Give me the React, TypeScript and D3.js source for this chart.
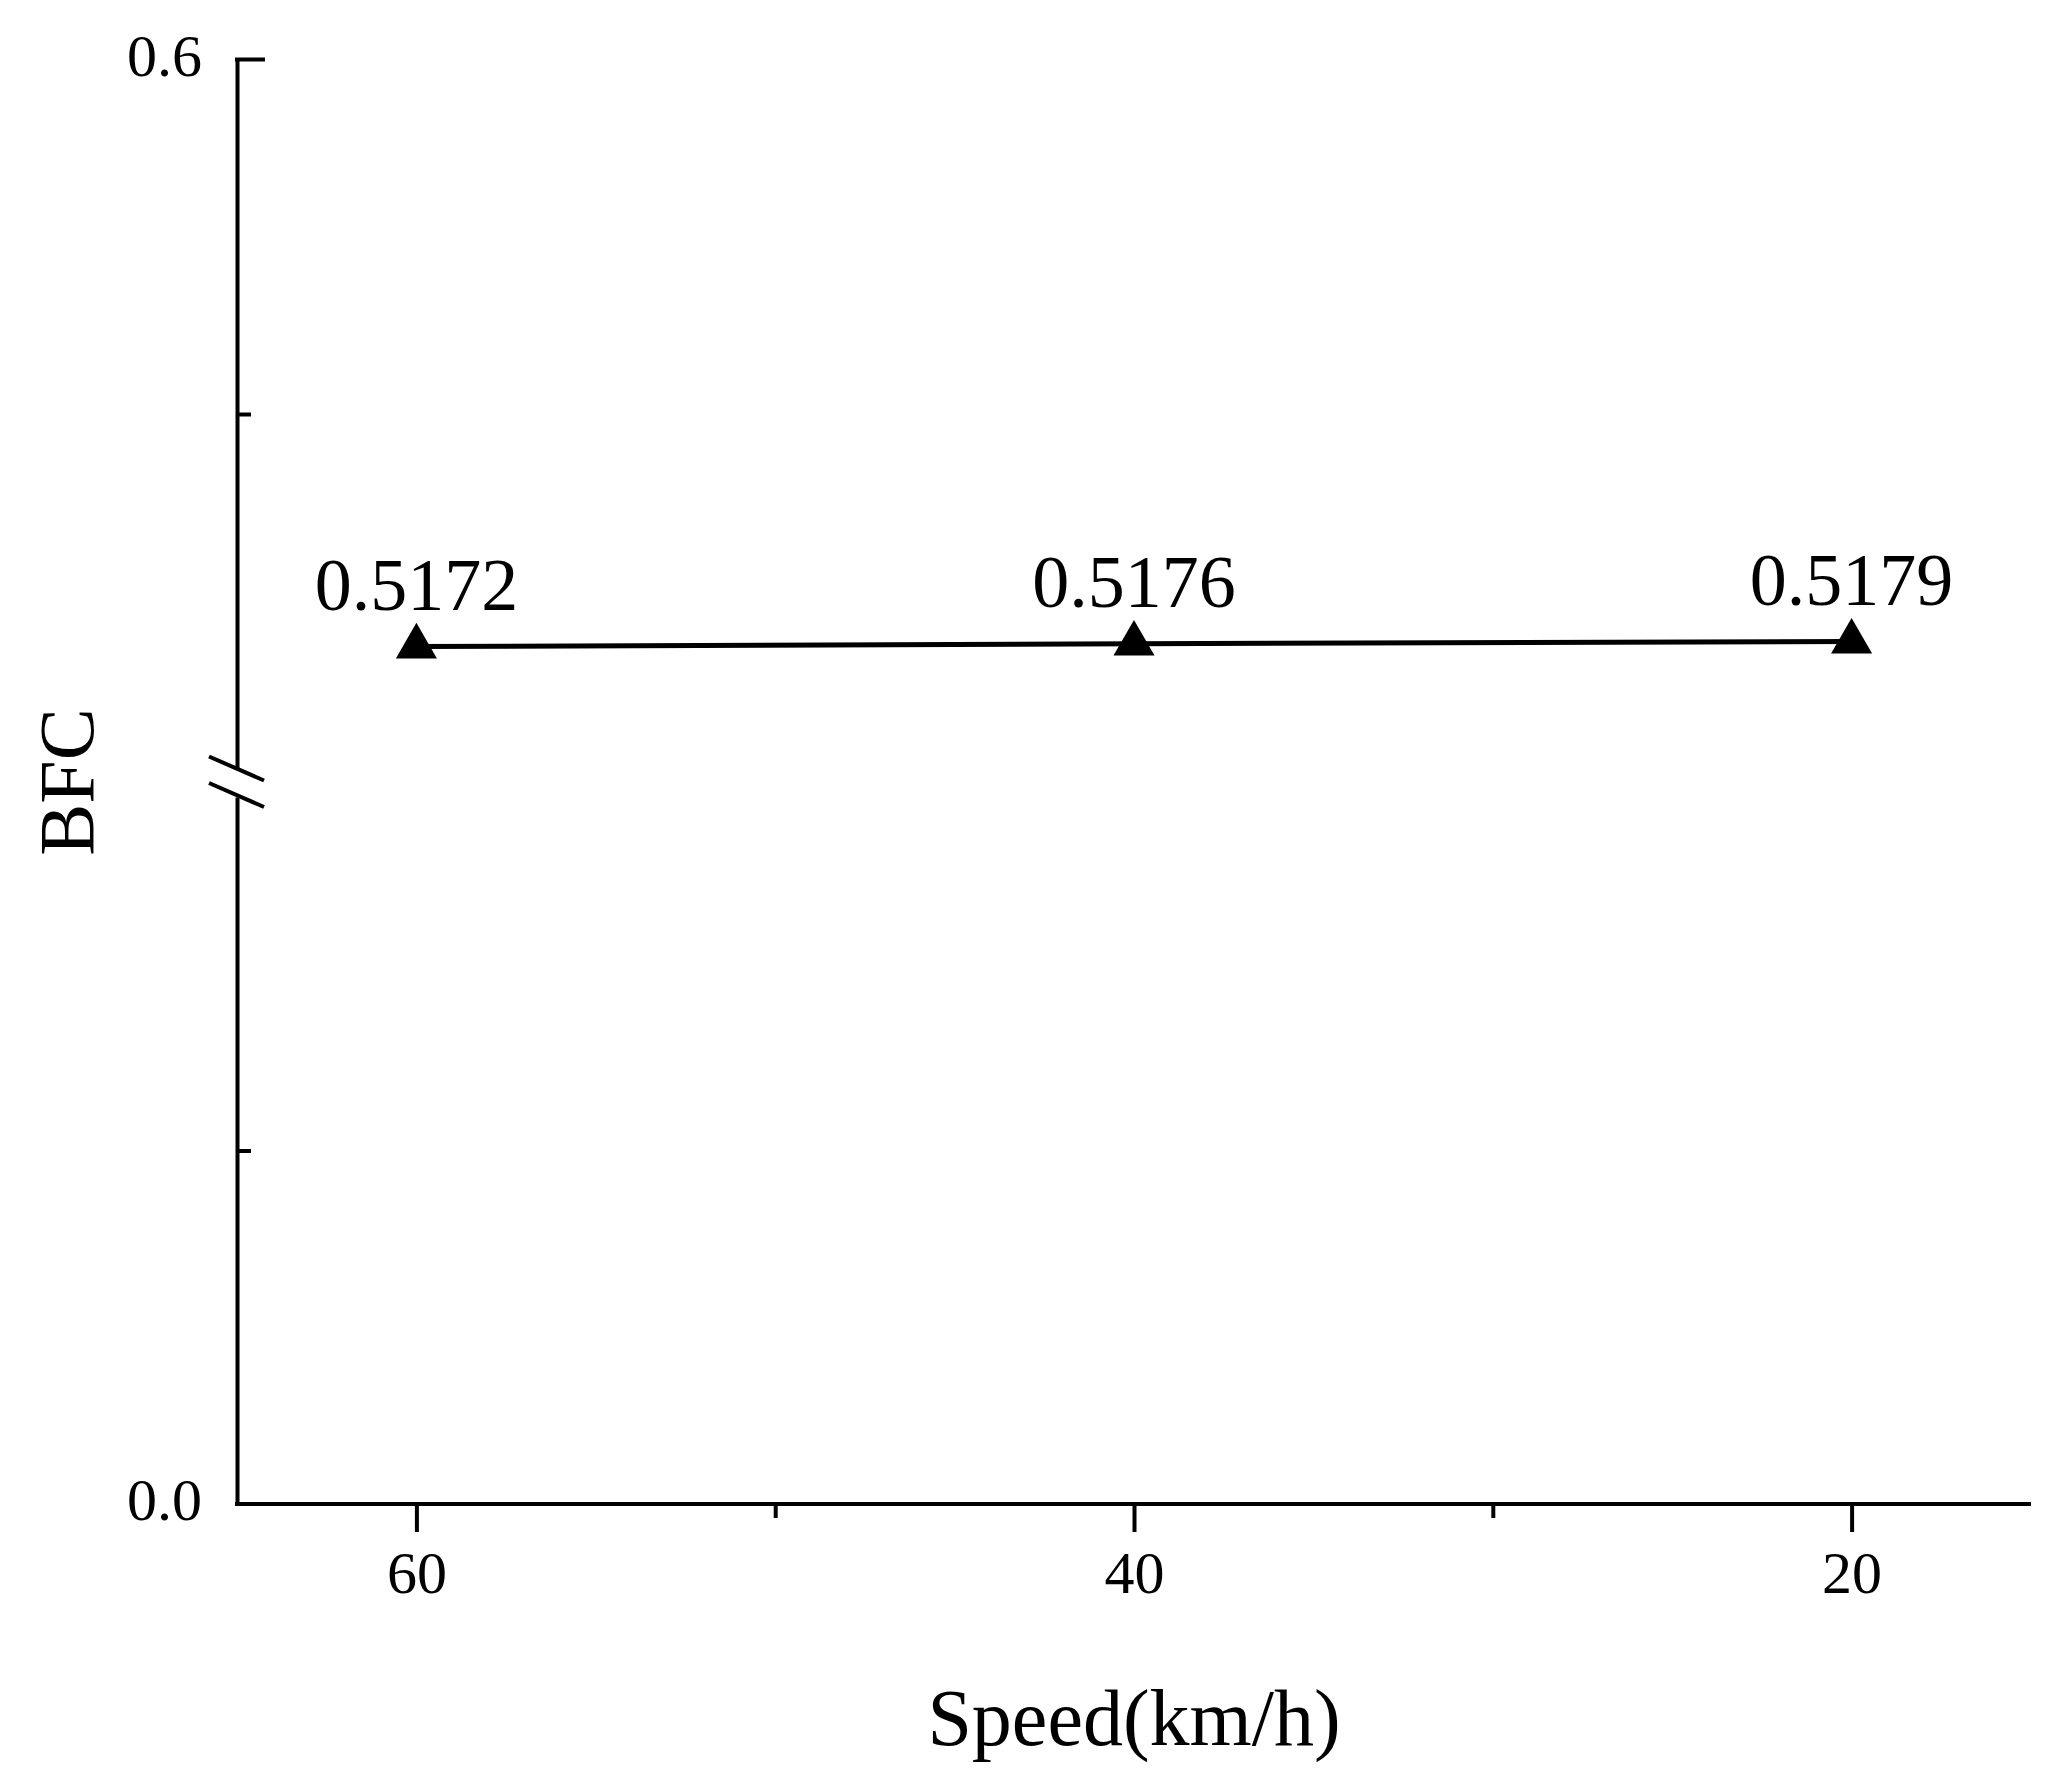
import { useEffect, useRef } from 'react'
import * as d3 from 'd3'

const speeds = [60, 40, 20]
const bfcValues = [0.5172, 0.5176, 0.5179]
const valueLabels = ['0.5172', '0.5176', '0.5179']
const xMajorTicks = [60, 40, 20]
const xMinorTicks = [50, 30]
const yLabelTicks = [0.0, 0.6]
const yMinorLower = [0.05]
const yMinorUpper = [0.55]

const FONT = '"Liberation Serif", "Times New Roman", serif'

export default function App() {
  const svgRef = useRef<SVGSVGElement>(null)

  useEffect(() => {
    if (!svgRef.current) return
    const width = 2057
    const height = 1784
    const svg = d3.select(svgRef.current).attr('width', width).attr('height', height)
    svg.selectAll('*').remove()

    const left = 237
    const right = 2031
    const bottom = 1504

    const x = d3.scaleLinear().domain([65, 15]).range([left, right])
    // broken y axis: lower piece 0–0.1, upper piece 0.5–0.6
    const yLower = d3.scaleLinear().domain([0, 0.1]).range([bottom, 797])
    const yUpper = d3.scaleLinear().domain([0.5, 0.6]).range([768.5, 59.5])
    const y = (v: number) => (v >= 0.3 ? yUpper(v) : yLower(v))

    const styleAxis = (g: d3.Selection<SVGGElement, unknown, null, undefined>) => {
      g.selectAll('.domain').attr('stroke', '#000').attr('stroke-width', 4)
      g.selectAll('line').attr('stroke', '#000').attr('stroke-width', 4)
      g.selectAll('text').attr('fill', '#000').attr('font-family', FONT).attr('font-size', 60)
    }

    // Y axis lower piece
    const gyl = svg.append('g').attr('transform', `translate(${left},0)`)
      .call(d3.axisLeft(yLower).tickValues(yMinorLower).tickSizeInner(-14).tickSizeOuter(0).tickFormat(() => ''))
    styleAxis(gyl)

    // Y axis upper piece
    const gyu = svg.append('g').attr('transform', `translate(${left},0)`)
      .call(d3.axisLeft(yUpper).tickValues(yMinorUpper).tickSizeInner(-14).tickSizeOuter(0).tickFormat(() => ''))
    styleAxis(gyu)

    // top major tick
    svg.append('line')
      .attr('x1', left - 2).attr('x2', left + 28)
      .attr('y1', yUpper(0.6)).attr('y2', yUpper(0.6))
      .attr('stroke', '#000').attr('stroke-width', 4)

    // y tick labels
    yLabelTicks.forEach(v => {
      svg.append('text')
        .attr('x', left - 35)
        .attr('y', y(v))
        .attr('dy', '0.27em')
        .attr('text-anchor', 'end')
        .attr('font-family', FONT)
        .attr('font-size', 60)
        .text(d3.format('.1f')(v))
    })

    // break marks
    ;[yUpper(0.5), yLower(0.1) - 2].forEach(cy => {
      svg.append('line')
        .attr('x1', left - 28).attr('y1', cy - 12)
        .attr('x2', left + 27).attr('y2', cy + 12)
        .attr('stroke', '#000').attr('stroke-width', 4)
    })

    // X axis
    const gx = svg.append('g').attr('transform', `translate(0,${bottom})`)
      .call(d3.axisBottom(x).tickValues(xMajorTicks).tickSizeInner(28).tickSizeOuter(0).tickPadding(18).tickFormat(d3.format('d')))
    styleAxis(gx)
    gx.select('.domain').attr('d', `M${left - 2},0H${right}`)

    const gxm = svg.append('g').attr('transform', `translate(0,${bottom})`)
      .call(d3.axisBottom(x).tickValues(xMinorTicks).tickSizeInner(14).tickSizeOuter(0).tickFormat(() => ''))
    styleAxis(gxm)
    gxm.select('.domain').remove()

    // data line
    const pts = speeds.map((s, i) => [x(s), y(bfcValues[i])] as [number, number])
    svg.append('path')
      .attr('d', d3.line()(pts))
      .attr('fill', 'none')
      .attr('stroke', '#000')
      .attr('stroke-width', 5)

    const tri = d3.symbol().type(d3.symbolTriangle).size(730)
    pts.forEach(([px, py], i) => {
      svg.append('path')
        .attr('d', tri())
        .attr('transform', `translate(${px},${py})`)
        .attr('fill', '#000')
      svg.append('text')
        .attr('x', px)
        .attr('y', py - 37)
        .attr('text-anchor', 'middle')
        .attr('font-family', FONT)
        .attr('font-size', 74)
        .text(valueLabels[i])
    })

    // axis titles
    svg.append('text')
      .attr('x', (x(60) + x(20)) / 2)
      .attr('y', 1745)
      .attr('text-anchor', 'middle')
      .attr('font-family', FONT)
      .attr('font-size', 80)
      .text('Speed(km/h)')

    svg.append('text')
      .attr('transform', `translate(93,782) rotate(-90)`)
      .attr('text-anchor', 'middle')
      .attr('font-family', FONT)
      .attr('font-size', 78)
      .text('BFC')
  }, [])

  return (
    <svg ref={svgRef} style={{ position: 'absolute', left: 0, top: 0, background: '#fff' }} />
  )
}
